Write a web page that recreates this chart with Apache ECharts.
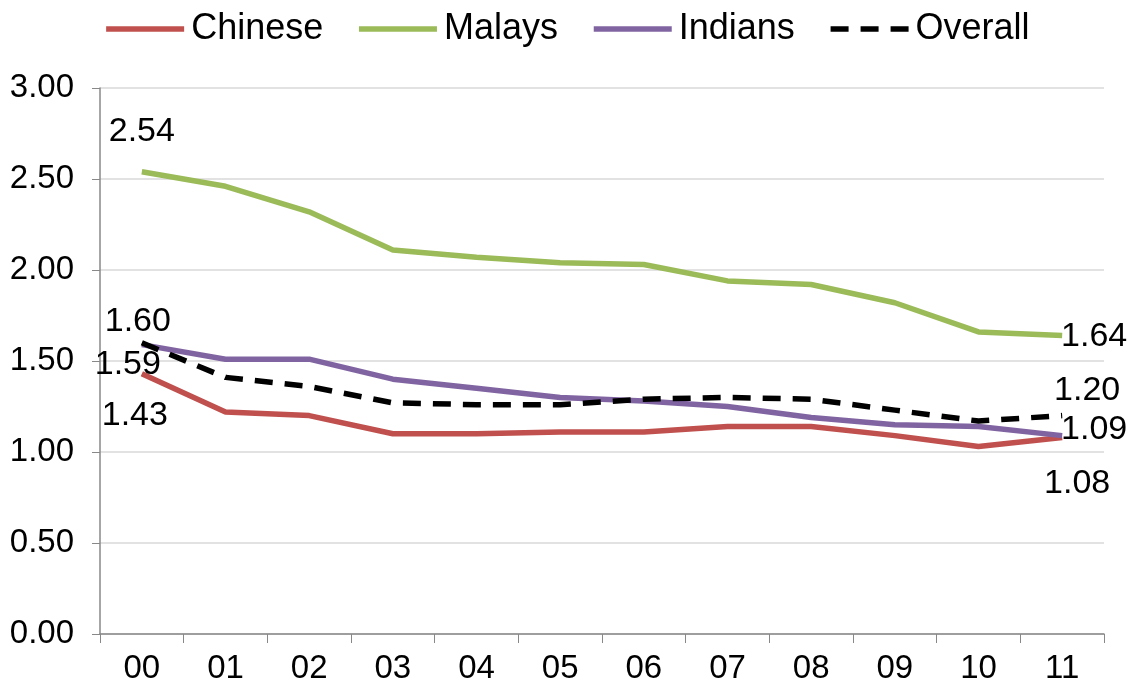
<!DOCTYPE html>
<html>
<head>
<meta charset="utf-8">
<script src="https://cdn.jsdelivr.net/npm/echarts@6/dist/echarts.min.js"></script>
<style>html,body{margin:0;padding:0;background:#fff}#c{width:1133px;height:691px}</style>
</head>
<body>
<div id="c"></div>
<script>
const categories = ['00','01','02','03','04','05','06','07','08','09','10','11'];
const chinese = [1.43,1.22,1.20,1.10,1.10,1.11,1.11,1.14,1.14,1.09,1.03,1.08];
const malays  = [2.54,2.46,2.32,2.11,2.07,2.04,2.03,1.94,1.92,1.82,1.66,1.64];
const indians = [1.59,1.51,1.51,1.40,1.35,1.30,1.28,1.25,1.19,1.15,1.14,1.09];
const overall = [1.60,1.41,1.36,1.27,1.26,1.26,1.29,1.30,1.29,1.23,1.17,1.20];
const yTicks = [0,0.5,1,1.5,2,2.5,3];

const FONT = 'Liberation Sans, Arial, sans-serif';
function withLabels(values, firstOff, lastOff) {
  return values.map((v, i) => {
    let off = null;
    if (i === 0) off = firstOff;
    if (i === values.length - 1) off = lastOff;
    if (!off) return v;
    return {value: v, label: {show: true, position: 'inside', offset: off,
      formatter: p => Number(p.value).toFixed(2), color: '#000', fontSize: 34, fontFamily: FONT}};
  });
}
function mk(name, values, color, dashed, firstOff, lastOff) {
  return {
    name, type: 'line', data: withLabels(values, firstOff, lastOff),
    symbol: 'circle', symbolSize: 0, showSymbol: true,
    lineStyle: {color, width: 5.5, type: dashed ? [18, 12] : 'solid'},
    itemStyle: {color},
    emphasis: {disabled: true},
    z: dashed ? 3 : 2
  };
}
const chart = echarts.init(document.getElementById('c'));
chart.setOption({
  animation: false,
  legend: {
    top: 6, left: 'center', itemWidth: 78, itemHeight: 14, itemGap: 33,
    textStyle: {fontSize: 36, fontFamily: FONT, color: '#000', padding: [0,0,0,2]},
    itemStyle: {opacity: 0},
    lineStyle: {width: 5.5}
  },
  grid: {left: 100, right: 29, top: 88, bottom: 57},
  xAxis: {
    type: 'category', data: categories, boundaryGap: true,
    axisLine: {lineStyle: {color: '#888', width: 1.5}},
    axisTick: {show: true, length: 9, lineStyle: {color: '#888'}},
    axisLabel: {fontSize: 33, fontFamily: FONT, color: '#000', margin: 18}
  },
  yAxis: {
    type: 'value', min: yTicks[0], max: yTicks[yTicks.length-1], interval: 0.5,
    axisLine: {show: true, lineStyle: {color: '#888', width: 1.5}},
    axisTick: {show: true, length: 8, lineStyle: {color: '#888'}},
    axisLabel: {fontSize: 33, fontFamily: FONT, color: '#000', margin: 26, formatter: v => v.toFixed(2)},
    splitLine: {lineStyle: {color: '#d9d9d9', width: 1.5}}
  },
  series: [
    mk('Chinese', chinese, '#C0504D', false, [-7, 42], [15, 46]),
    mk('Malays', malays, '#9BBB59', false, [0, -40], [32, 1]),
    mk('Indians', indians, '#8064A2', false, [-14, 20], [32, -6]),
    mk('Overall', overall, '#000000', true, [-4, -21], [25, -25])
  ]
});
</script>
</body>
</html>
